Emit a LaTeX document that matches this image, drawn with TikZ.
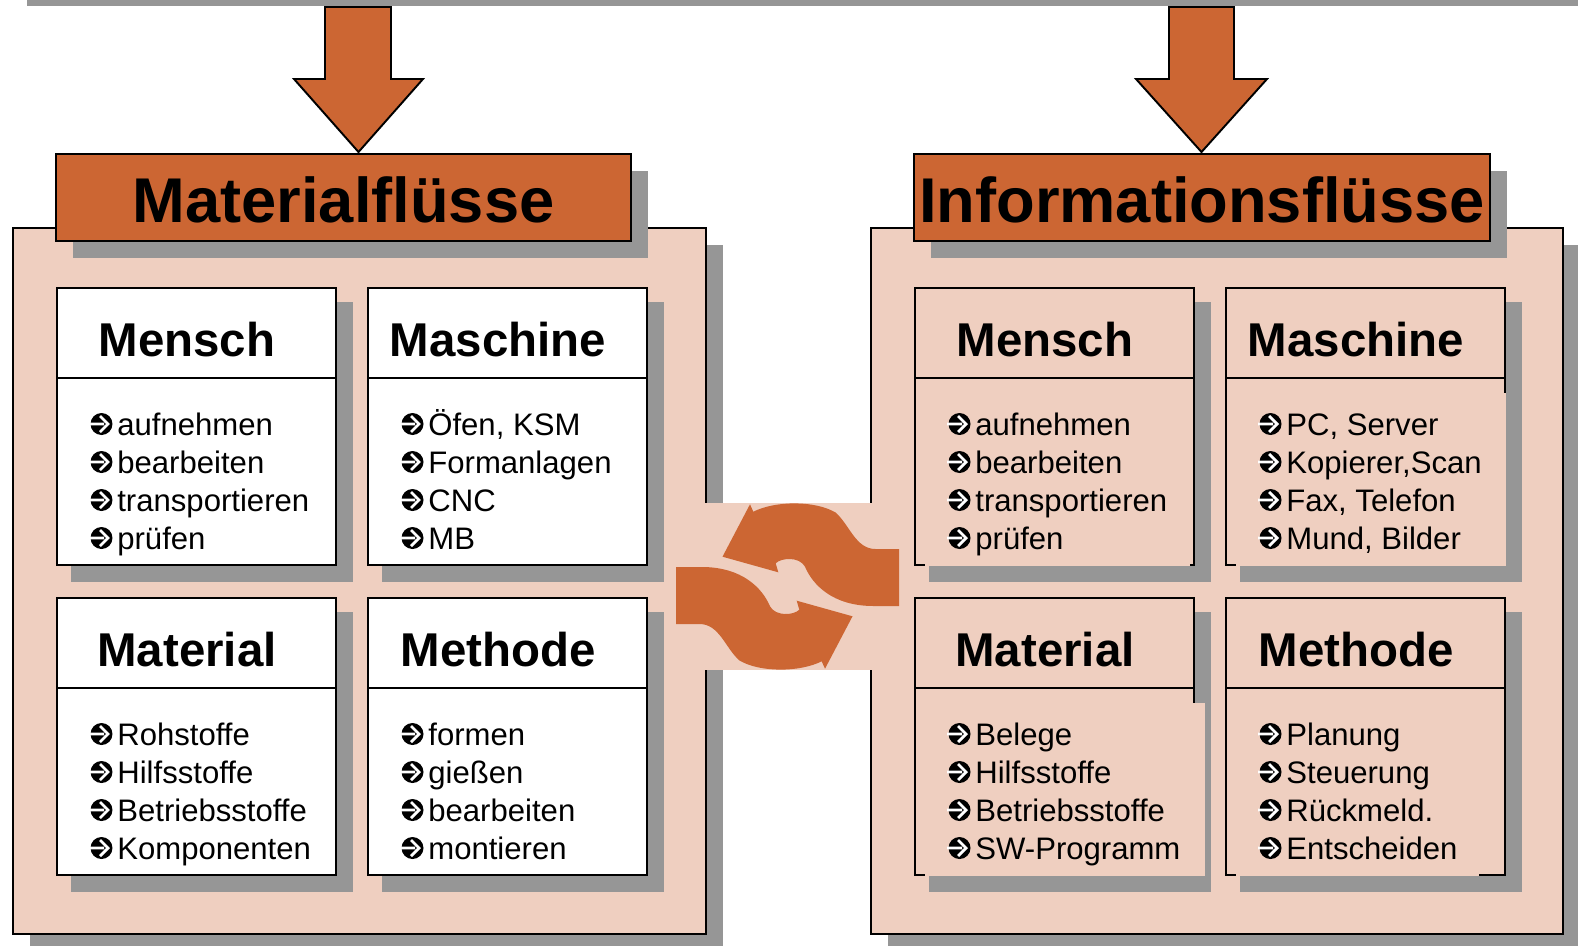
\documentclass[tikz,border=0pt]{standalone}
\usepackage{fontspec}
\setmainfont{Liberation Sans}
\usepackage{tikz}

\definecolor{rust}{RGB}{204,102,51}
\definecolor{peach}{RGB}{239,207,192}
\definecolor{shade}{RGB}{150,150,150}

\begin{document}
\begin{tikzpicture}[x=0.02cm, y=-0.02cm,
  dropshade/.style={fill=shade},
  blackline/.style={draw=black, line width=1.1pt},
  cell/.style={blackline, rectangle, anchor=north west, inner sep=0pt, minimum width=5.58cm, minimum height=5.54cm},
  headtext/.style={anchor=base, inner sep=0pt, font=\fontsize{27}{27}\selectfont\bfseries},
  itemtext/.style={anchor=base west, inner sep=0pt, font=\fontsize{17.7}{20}\selectfont},
  titletext/.style={anchor=base, inner sep=0pt, font=\fontsize{36}{36}\selectfont\bfseries},
  bulletdot/.style={fill=black},
  bulletcut/.style={draw=white, line width=1.6pt, line join=miter},
  blockarrow/.style={blackline, fill=rust, line join=miter},
  flowarrow/.style={fill=rust}]
\useasboundingbox (0,0) rectangle (1578,946);
\fill[dropshade] (27,0) rectangle (1578,6);
% panels
\fill[dropshade] (30,245) rectangle (723,951);
\draw[blackline, fill=peach] (13,228) rectangle (706,934);
\fill[dropshade] (888,245) rectangle (1580,951);
\draw[blackline, fill=peach] (871,228) rectangle (1563,934);
\fill[peach] (703,503) rectangle (872,670);
% titles
\fill[dropshade] (73,171) rectangle (648,258);
\draw[blackline, fill=rust] (56,154) rectangle (631,241);
\node[titletext] (matfl) at (343.5,222) {Materialflüsse};
\fill[dropshade] (931,171) rectangle (1507,258);
\draw[blackline, fill=rust] (914,154) rectangle (1490,241);
\node[titletext] (inffl) at (1202,222) {Informationsflüsse};
\draw[blockarrow] (325,7) -- (391,7) -- (391,79) -- (423,79) -- (358.5,152) -- (294,79) -- (325,79) -- cycle;
\draw[blockarrow] (1169,7) -- (1234,7) -- (1234,79) -- (1267,79) -- (1201.5,152) -- (1136,79) -- (1169,79) -- cycle;
% boxes
\foreach \bx/\by/\bid/\bname/\bfill/\ar/\ab/\blist in {
  56/287/mensch/Mensch/white/268/270/{aufnehmen,bearbeiten,transportieren,prüfen},
  367/287/maschine/Maschine/white/268/270/{{Öfen, KSM},Formanlagen,CNC,MB},
  56/597/material/Material/white/268/270/{Rohstoffe,Hilfsstoffe,Betriebsstoffe,Komponenten},
  367/597/methode/Methode/white/268/270/{formen,gießen,bearbeiten,montieren},
  914/287/imensch/Mensch/peach/276/279/{aufnehmen,bearbeiten,transportieren,prüfen},
  1225/287/imaschine/Maschine/peach/281/279/{{PC, Server},{Kopierer,Scan},{Fax, Telefon},{Mund, Bilder}},
  914/597/imaterial/Material/peach/291/279/{Belege,Hilfsstoffe,Betriebsstoffe,SW-Programm},
  1225/597/imethode/Methode/peach/254/279/{Planung,Steuerung,Rückmeld.,Entscheiden}}
{
  \fill[dropshade] (\bx+15,\by+15) rectangle (\bx+297,\by+295);
  \node[cell, fill=\bfill] (\bid) at (\bx,\by) {};
  \draw[blackline] (\bx,\by+91) -- (\bx+279,\by+91);
  \fill[\bfill] (\bx+11,\by+106) rectangle (\bx+\ar,\by+\ab);
  \node[headtext] (\bid-head) at (\bx+131,\by+69) {\bname};
  \foreach \itm [count=\i] in \blist {
    \fill[bulletdot] (\bx+45.5,\by+99+38*\i) circle [radius=0.22cm];
    \draw[bulletcut] (\bx+33,\by+99+38*\i) -- (\bx+48,\by+99+38*\i)
      (\bx+44,\by+91+38*\i) -- (\bx+52,\by+99+38*\i) -- (\bx+44,\by+107+38*\i);
    \node[itemtext] (\bid-\i) at (\bx+61,\by+110+38*\i) {\itm};
  }
}
% exchange arrows
\foreach \r in {0,180}
  \fill[flowarrow, shift={(787.5,586.5)}, rotate=\r] (111.5,-37.5) -- (88,-37.5)
    .. controls (68,-37.5) and (62,-62) .. (48,-74) .. controls (28,-86) and (-12,-86) .. (-34.2,-74.8)
    -- (-37.5,-82.2) -- (-65,-29.8) -- (-9.2,-14.2) -- (-11.8,-23.2)
    .. controls (-6,-29) and (12,-30) .. (17.5,-19.8)
    .. controls (25,-2) and (45,19.5) .. (85.8,19.5) -- (111.5,19.5) -- cycle;
\end{tikzpicture}
\end{document}
